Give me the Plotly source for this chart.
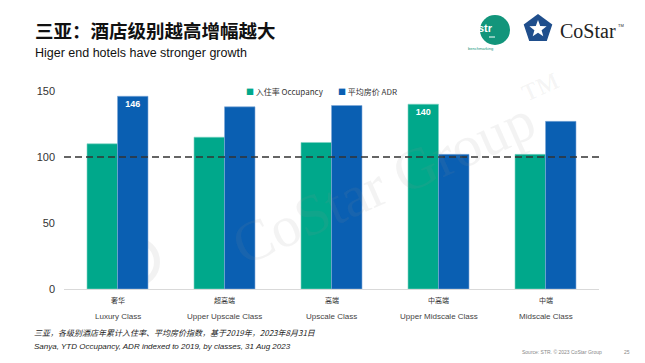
import math
import plotly.graph_objects as go

categories_cn = ["奢华", "超高端", "高端", "中高端", "中端"]
categories_en = ["Luxury Class", "Upper Upscale Class", "Upscale Class", "Upper Midscale Class", "Midscale Class"]
occupancy = [110, 115, 111, 140, 102]
adr = [146, 138, 139, 102, 127]
occ_labels = ["", "", "", "140", ""]
adr_labels = ["146", "", "", "", ""]
y_ticks = [0, 50, 100, 150]
series_names = ["入住率 Occupancy", "平均房价 ADR"]

GREEN = "#00A88B"
BLUE = "#0A5FB2"
FONT = "Noto Sans CJK SC, Noto Sans, sans-serif"
SANS = "Liberation Sans, Arial, sans-serif"

W, H = 645, 363
L, R, T, B = 64, 599, 91, 289


def px(x):
    return (x - L) / (R - L)


def py(y):
    return (B - y) / (B - T)


fig = go.Figure()
fig.add_trace(go.Bar(
    x=categories_en, y=occupancy, name=series_names[0],
    marker=dict(color=GREEN, line=dict(color="#7fd3c5", width=0.6)),
    text=occ_labels, textposition="inside", insidetextanchor="end",
    texttemplate="<b>%{text}</b>",
    textfont=dict(color="white", size=9, family=SANS),
))
fig.add_trace(go.Bar(
    x=categories_en, y=adr, name=series_names[1],
    marker=dict(color=BLUE, line=dict(color="#7fa9d8", width=0.6)),
    text=adr_labels, textposition="inside", insidetextanchor="end",
    texttemplate="<b>%{text}</b>",
    textfont=dict(color="white", size=9, family=SANS),
))

fig.add_shape(type="line", xref="paper", yref="y", x0=0, x1=px(602), y0=100, y1=100,
              line=dict(color="#333333", width=1.6, dash="7px,4px"))

# manual legend
fig.add_annotation(xref="paper", yref="paper", x=px(244), y=py(91), xanchor="left", yanchor="middle",
                   text=f"<span style='color:{GREEN}'>■</span> {series_names[0]}", showarrow=False,
                   font=dict(size=8, color="#333333", family=FONT))
fig.add_annotation(xref="paper", yref="paper", x=px(336), y=py(91), xanchor="left", yanchor="middle",
                   text=f"<span style='color:{BLUE}'>■</span> {series_names[1]}", showarrow=False,
                   font=dict(size=8, color="#333333", family=FONT))

# x labels
for cn, en in zip(categories_cn, categories_en):
    fig.add_annotation(x=en, xref="x", yref="paper", y=py(300), text=cn, showarrow=False,
                       font=dict(size=7, color="#333333", family=FONT), yanchor="middle")
    fig.add_annotation(x=en, xref="x", yref="paper", y=py(316), text=en, showarrow=False,
                       font=dict(size=8, color="#444444", family=SANS), yanchor="middle")

# titles
fig.add_annotation(xref="paper", yref="paper", x=px(33), y=py(30), xanchor="left", yanchor="middle",
                   text="<b>三亚：酒店级别越高增幅越大</b>", showarrow=False,
                   font=dict(size=18.5, color="#111111", family=FONT))
fig.add_annotation(xref="paper", yref="paper", x=px(33), y=py(53), xanchor="left", yanchor="middle",
                   text="Higer end hotels have stronger growth", showarrow=False,
                   font=dict(size=12.5, color="#111111", family=SANS))

# footnotes
fig.add_annotation(xref="paper", yref="paper", x=px(32), y=py(332), xanchor="left", yanchor="middle",
                   text="<i>三亚，各级别酒店年累计入住率、平均房价指数，基于2019年，2023年8月31日</i>", showarrow=False,
                   font=dict(size=8, color="#222222", family=FONT))
fig.add_annotation(xref="paper", yref="paper", x=px(32), y=py(346), xanchor="left", yanchor="middle",
                   text="<i>Sanya, YTD Occupancy, ADR indexed to 2019, by classes, 31 Aug 2023</i>", showarrow=False,
                   font=dict(size=8, color="#222222", family=SANS))
fig.add_annotation(xref="paper", yref="paper", x=px(604), y=py(352), xanchor="right", yanchor="middle",
                   text="Source: STR. © 2023 CoStar Group", showarrow=False,
                   font=dict(size=5, color="#888888", family=SANS))
fig.add_annotation(xref="paper", yref="paper", x=px(632), y=py(352), xanchor="right", yanchor="middle",
                   text="25", showarrow=False,
                   font=dict(size=5, color="#888888", family=SANS))

# watermark
fig.add_annotation(xref="paper", yref="paper", x=px(400), y=py(170), text="CoStar Group<sup>™</sup>", showarrow=False,
                   textangle=-24, font=dict(size=58, color="rgba(150,150,150,0.11)", family="Liberation Serif, serif"))
fig.add_shape(type="circle", xref="paper", yref="paper", xsizemode="pixel", ysizemode="pixel",
              xanchor=px(135), yanchor=py(262), x0=-22, x1=22, y0=-22, y1=22,
              line=dict(color="rgba(150,150,150,0.12)", width=6), fillcolor="rgba(0,0,0,0)", layer="below")

# str logo
fig.add_shape(type="circle", xref="paper", yref="paper", xsizemode="pixel", ysizemode="pixel",
              xanchor=px(495), yanchor=py(30), x0=-15, x1=15, y0=-15, y1=15,
              fillcolor="#12957B", line=dict(width=0))
fig.add_annotation(xref="paper", yref="paper", x=px(495), y=py(28), text="<b>str</b>", showarrow=False,
                   yanchor="middle", font=dict(size=11, color="white", family=SANS))
fig.add_shape(type="line", xref="paper", yref="paper", x0=px(489), x1=px(495), y0=py(37), y1=py(37),
              line=dict(color="white", width=1))
fig.add_annotation(xref="paper", yref="paper", x=px(495), y=py(49), text="benchmarking", showarrow=False,
                   yanchor="middle", font=dict(size=4, color="#12957B", family=SANS))

# CoStar logo: blue pentagon with white star
cx, cy, rad = 538, 29, 15


def poly(points):
    return "M " + " L ".join(f"{x:.1f},{y:.1f}" for x, y in points) + " Z"


pent = [(rad * math.cos(math.radians(90 + 72 * k)), rad * math.sin(math.radians(90 + 72 * k))) for k in range(5)]
star = []
for k in range(10):
    r_ = 9 if k % 2 == 0 else 3.8
    a = math.radians(90 + 36 * k)
    star.append((r_ * math.cos(a), r_ * math.sin(a)))
fig.add_shape(type="path", xref="paper", yref="paper", xsizemode="pixel", ysizemode="pixel",
              xanchor=px(cx), yanchor=py(cy), path=poly(pent), fillcolor="#1F4E8C", line=dict(width=0))
fig.add_shape(type="path", xref="paper", yref="paper", xsizemode="pixel", ysizemode="pixel",
              xanchor=px(cx), yanchor=py(cy), path=poly(star), fillcolor="white", line=dict(width=0))
fig.add_annotation(xref="paper", yref="paper", x=px(558), y=py(31), xanchor="left", yanchor="middle",
                   text="CoStar", showarrow=False,
                   font=dict(size=20, color="#222222", family="Liberation Serif, serif"))
fig.add_annotation(xref="paper", yref="paper", x=px(616), y=py(25), xanchor="left", yanchor="middle",
                   text="TM", showarrow=False,
                   font=dict(size=4, color="#222222", family=SANS))

fig.update_layout(
    width=W, height=H,
    margin=dict(l=L, r=W - R, t=T, b=H - B, autoexpand=False),
    paper_bgcolor="white", plot_bgcolor="white",
    barmode="group", bargap=0.43, bargroupgap=0,
    font=dict(family=FONT, color="#333333"),
    showlegend=False,
    xaxis=dict(showticklabels=False, showline=True, linecolor="#d9d9d9", linewidth=1,
               ticks="", showgrid=False, zeroline=False, automargin=False),
    yaxis=dict(range=[0, 150], tickvals=y_ticks, showgrid=False, zeroline=False, showline=False,
               tickfont=dict(size=11, color="#333333", family=SANS),
               ticks="", ticklabelstandoff=8, automargin=False),
)

fig.write_html("out.html", config={"displayModeBar": False},
               post_script="document.body.style.margin='0';document.body.style.padding='0';")
